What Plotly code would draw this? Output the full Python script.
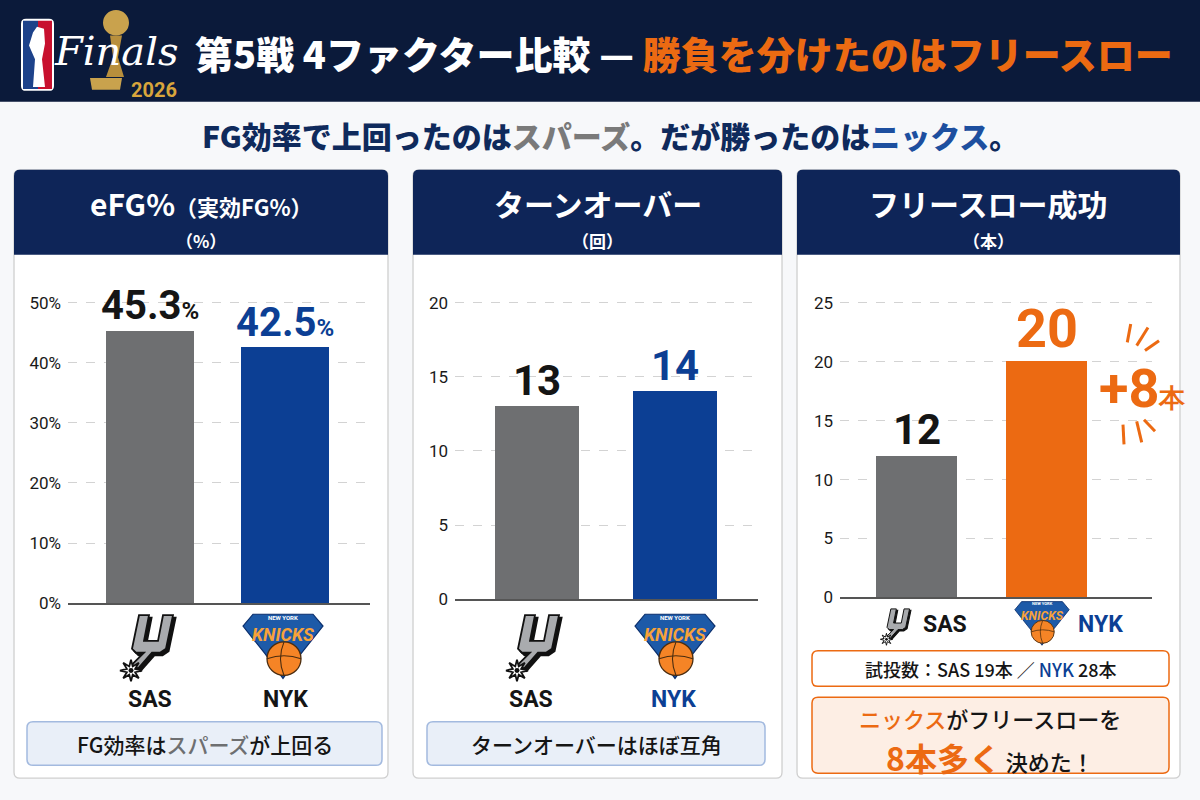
import math
import plotly.graph_objects as go

W, H = 1200, 800

# ---------------- data ----------------
teams = ["SAS", "NYK"]
efg_pct = [45.3, 42.5]
turnovers = [13, 14]
ft_made = [12, 20]
ft_att = [19, 28]

efg_ticks = [0, 10, 20, 30, 40, 50]
efg_tick_labels = ["0%", "10%", "20%", "30%", "40%", "50%"]
tov_ticks = [0, 5, 10, 15, 20]
tov_tick_labels = ["0", "5", "10", "15", "20"]
ft_ticks = [0, 5, 10, 15, 20, 25]
ft_tick_labels = ["0", "5", "10", "15", "20", "25"]

panel_titles = ["eFG%", "ターンオーバー", "フリースロー成功"]
panel_units = ["（%）", "（回）", "（本）"]

# ---------------- style ----------------
NAVY = "#0b1a3a"
PANEL_NAVY = "#0e2558"
GRAY = "#6e6f71"
BLUE = "#0c3f94"
ORANGE = "#ec6a12"
TXT = "#151515"
JP = "Noto Sans CJK JP"
NUM = "Roboto"


def X(px):
    return px / W


def Y(py):
    return 1 - py / H


def P(x, y):
    return f"{X(x):.5f},{Y(y):.5f}"


def poly(points):
    return "M " + " L ".join(P(x, y) for x, y in points) + " Z"


def rrect(x0, y0, x1, y1, r, top_only=False):
    rb = 0 if top_only else r
    return (f"M {P(x0 + r, y0)} L {P(x1 - r, y0)} Q {P(x1, y0)} {P(x1, y0 + r)} "
            f"L {P(x1, y1 - rb)} Q {P(x1, y1)} {P(x1 - rb, y1)} "
            f"L {P(x0 + rb, y1)} Q {P(x0, y1)} {P(x0, y1 - rb)} "
            f"L {P(x0, y0 + r)} Q {P(x0, y0)} {P(x0 + r, y0)} Z")


shapes = []
ann = []


def add_shape(path, fill, line="rgba(0,0,0,0)", lw=0, layer="above"):
    shapes.append(dict(type="path", xref="paper", yref="paper", path=path,
                       fillcolor=fill, line=dict(color=line, width=lw), layer=layer))


def add_circle(x, y, r, fill, line="rgba(0,0,0,0)", lw=0):
    shapes.append(dict(type="circle", xref="paper", yref="paper", x0=X(x - r), x1=X(x + r),
                       y0=Y(y + r), y1=Y(y - r), fillcolor=fill, line=dict(color=line, width=lw)))


def add_text(x, y, text, size, color=TXT, family=JP, weight="normal",
             xanchor="center", yanchor="middle", **kw):
    ann.append(dict(xref="paper", yref="paper", x=X(x), y=Y(y), text=text,
                    showarrow=False, xanchor=xanchor, yanchor=yanchor,
                    font=dict(size=size, color=color, family=family, weight=weight), **kw))


# ---------------- page / header ----------------
add_shape(poly([(0, 0), (W, 0), (W, 103), (0, 103)]), NAVY, layer="below")

# NBA-like logo block
add_shape(rrect(21, 19, 54, 92, 5), "#ffffff")
add_shape(poly([(23, 21), (38, 21), (38, 90), (23, 90)]), "#1d428a")
add_shape(poly([(38, 21), (52, 21), (52, 90), (38, 90)]), "#c8102e")
add_shape(poly([(37, 27), (44, 29), (45, 44), (42, 60), (45, 88), (33, 88), (35, 60), (29, 46), (33, 33)]), "#ffffff")
# trophy
add_circle(116, 23, 13, "#c9a24d")
add_shape(poly([(110, 36), (122, 36), (118, 58), (124, 78), (106, 78), (113, 58)]), "#b88f3c")
add_shape(poly([(90, 79), (122, 79), (120, 91), (92, 91)]), "#c9a24d")
add_text(116, 52, "<i>Finals</i>", 40, "#ffffff", "DejaVu Serif")
add_text(154, 91, "2026", 20, "#d8a53c", NUM, "bold")

add_text(193, 53, f"第5戦 4ファクター比較 — <span style='color:{ORANGE}'>勝負を分けたのはフリースロー</span>",
         38, "#ffffff", JP, 900, xanchor="left")

# subtitle
add_text(610, 137,
         f"FG効率で上回ったのは<span style='color:#7a7a7a'>スパーズ</span>。だが勝ったのは<span style='color:#1d4f9f'>ニックス</span>。",
         30, "#0f2a5c", JP, 900)

# ---------------- panels ----------------
panels = [(14, 388), (413, 782), (797, 1180)]
for i, (x0, x1) in enumerate(panels):
    add_shape(rrect(x0, 172, x1, 788, 6), "#ffffff", "#cfcfcf", 1.3, layer="below")
    add_shape(rrect(x0, 172, x1, 258, 6, top_only=True), PANEL_NAVY, layer="below")
    cx = (x0 + x1) / 2
    title = panel_titles[i]
    if i == 0:
        title = "eFG%<span style='font-size:22px'>（実効FG%）</span>"
    add_text(cx, 206, title, 30, "#ffffff", JP, "bold")
    add_text(cx, 244, panel_units[i], 17, "#ffffff", JP, "bold")

fig = go.Figure()

# axis geometry per panel
geo = [
    dict(xd=(68, 370), y0=610.7, ytop=285, ppu=6.08, c=(150, 285), bw=88),
    dict(xd=(455, 758), y0=606.7, ytop=285, ppu=15.0, c=(536.5, 675), bw=84),
    dict(xd=(840, 1152), y0=605.0, ytop=285, ppu=11.93, c=(916.5, 1046.5), bw=81),
]
values = [efg_pct, turnovers, ft_made]
ticks = [efg_ticks, tov_ticks, ft_ticks]
tick_labels = [efg_tick_labels, tov_tick_labels, ft_tick_labels]
bar_colors = [[GRAY, BLUE], [GRAY, BLUE], [GRAY, ORANGE]]
label_colors = [[TXT, BLUE], [TXT, BLUE], [TXT, ORANGE]]
label_sizes = [[40, 40], [42, 42], [42, 54]]

for i in range(3):
    g = geo[i]
    sfx = "" if i == 0 else str(i + 1)
    xu = g["c"][1] - g["c"][0]
    xr = [(g["xd"][0] - g["c"][0]) / xu, (g["xd"][1] - g["c"][0]) / xu]
    ymax = (g["y0"] - g["ytop"]) / g["ppu"]
    fig.add_trace(go.Bar(x=[0, 1], y=values[i], marker=dict(color=bar_colors[i], line=dict(width=0)),
                         width=g["bw"] / xu, xaxis="x" + sfx, yaxis="y" + sfx,
                         hoverinfo="skip", showlegend=False))
    fig.layout["xaxis" + sfx] = dict(domain=[X(g["xd"][0]), X(g["xd"][1])], range=xr,
                                     showticklabels=False, showgrid=False, zeroline=False,
                                     showline=True, linecolor="#555555", linewidth=1.5,
                                     anchor="y" + sfx, fixedrange=True)
    fig.layout["yaxis" + sfx] = dict(domain=[Y(g["y0"]), Y(g["ytop"])], range=[0, ymax],
                                     tickmode="array", tickvals=ticks[i], ticktext=tick_labels[i],
                                     showgrid=True, gridcolor="#d3d3d3", griddash="dash", gridwidth=1,
                                     zeroline=False, showline=False, ticks="",
                                     ticklabelstandoff=6,
                                     tickfont=dict(family=NUM, size=17, color="#1a1a1a"),
                                     anchor="x" + sfx, fixedrange=True)
    for j, v in enumerate(values[i]):
        if i == 0:
            txt = f"{v:.1f}<span style='font-size:24px'>%</span>"
        else:
            txt = f"{v}"
        ann.append(dict(xref="x" + sfx, yref="y" + sfx, x=j, y=v, text=txt, showarrow=False,
                        xanchor="center", yanchor="bottom", yshift=0,
                        font=dict(family=NUM, size=label_sizes[i][j], color=label_colors[i][j],
                                  weight="bold")))


# ---------------- logos ----------------
def spurs_logo(cx, cy, s):
    U = [(-13, -28), (-3, -28), (-8, -2), (6, -2), (11, -28), (21, -28), (14, 6), (8, 10), (0, 10),
         (-14, 26), (-20, 22), (-8, 10), (-16, 10), (-20, 6)]
    sh = [(cx + (x + 2.5) * s, cy + (y + 2.5) * s) for x, y in U]
    add_shape(poly(sh), "#111111", "#111111", 2 * s)
    pts = [(cx + x * s, cy + y * s) for x, y in U]
    add_shape(poly(pts), "#a9abae", "#111111", 1.8 * s)
    st = []
    sx, sy = cx - 21 * s, cy + 28 * s
    for k in range(16):
        r = (11 if k % 2 == 0 else 4.5) * s
        a = math.pi * k / 8 - math.pi / 2
        st.append((sx + r * math.cos(a), sy + r * math.sin(a)))
    add_shape(poly(st), "#ffffff", "#111111", 1.8 * s)
    add_circle(sx, sy, 2.5 * s, "#111111")


def knicks_logo(cx, cy, s):
    tri = [(-40, -20), (-30, -32), (30, -32), (40, -20), (18, 8), (0, 33), (-18, 8)]
    add_shape(poly([(cx + x * s, cy + y * s) for x, y in tri]), "#1d5aa8", "#0b2f6d", 1.2 * s)
    bx, by, r = cx + 1 * s, cy + 13 * s, 17 * s
    add_circle(bx, by, r, "#f58426", "#4a2c0f", 1.3 * s)
    shapes.append(dict(type="path", xref="paper", yref="paper",
                       path=f"M {P(bx - r, by)} Q {P(bx, by - 6 * s)} {P(bx + r, by)}",
                       line=dict(color="#4a2c0f", width=1.1 * s)))
    shapes.append(dict(type="path", xref="paper", yref="paper",
                       path=f"M {P(bx, by - r)} Q {P(bx - 7 * s, by)} {P(bx, by + r)}",
                       line=dict(color="#4a2c0f", width=1.1 * s)))
    add_text(cx, cy - 11 * s, "<b><i>KNICKS</i></b>", 18 * s, "#f7a23a", NUM)
    add_text(cx, cy - 29 * s, "<b>NEW YORK</b>", 6 * s, "#ffffff", NUM)


spurs_logo(152, 651, 1.0)
knicks_logo(283, 654, 1.0)
spurs_logo(538, 651, 1.0)
knicks_logo(675, 654, 1.0)
spurs_logo(898, 632, 0.55)
knicks_logo(1042, 631, 0.68)

team_label_colors = [[TXT, TXT], [TXT, BLUE], [TXT, BLUE]]
for j, t in enumerate(teams):
    add_text([150, 285][j], 708, t, 23, team_label_colors[0][j], NUM, "bold")
    add_text([531, 673][j], 708, t, 23, team_label_colors[1][j], NUM, "bold")
    add_text([945, 1100][j], 632, t, 23, team_label_colors[2][j], NUM, "bold")

# ---------------- +diff callout ----------------
diff = ft_made[1] - ft_made[0]
add_text(1142, 393, f"+{diff}<span style='font-size:26px'>本</span>", 54, ORANGE, NUM, "bold")
for (xa, ya, xb, yb) in [(1130.7, 328, 1127.3, 346.7), (1148, 331.7, 1136.7, 350), (1159, 345, 1145, 355),
                         (1123, 430, 1124, 450), (1136.7, 426.7, 1141.7, 448), (1144, 425, 1155, 436.7)]:
    shapes.append(dict(type="line", xref="paper", yref="paper", x0=X(xa), y0=Y(ya), x1=X(xb), y1=Y(yb),
                       line=dict(color=ORANGE, width=3)))

# ---------------- footer boxes ----------------
add_shape(rrect(27, 731, 382, 775, 6), "#e9eff8", "#a3badf", 1.5)
add_text(205, 753, "FG効率は<span style='color:#6e6f71'>スパーズ</span>が上回る", 21, TXT, JP, 500)
add_shape(rrect(427, 731, 765, 775, 6), "#e9eff8", "#a3badf", 1.5)
add_text(596, 753, "ターンオーバーはほぼ互角", 21, TXT, JP, 500)

add_shape(rrect(812, 659, 1169, 695, 6), "#ffffff", ORANGE, 1.5)
add_text(990, 677,
         f"試投数：SAS {ft_att[0]}本 ／ <span style='color:{BLUE}'>NYK</span> {ft_att[1]}本",
         18, TXT, JP, 500)
add_shape(rrect(812, 706, 1169, 783, 6), "#fdeee4", ORANGE, 1.5)
add_text(990, 727, f"<span style='color:{ORANGE}'>ニックス</span>がフリースローを", 22, TXT, JP, 500)
add_text(990, 767, f"<span style='color:{ORANGE};font-size:32px'><b>{diff}本多く</b></span> 決めた！",
         22, TXT, JP, 500)

fig.update_layout(width=W, height=H, margin=dict(l=0, r=0, t=0, b=0),
                  paper_bgcolor="#f7f8fa", plot_bgcolor="rgba(0,0,0,0)",
                  shapes=shapes, annotations=ann, showlegend=False, bargap=0)

fig.write_html("out.html", config={"displayModeBar": False},
               post_script="document.body.style.margin='0';document.body.style.overflow='hidden';")
